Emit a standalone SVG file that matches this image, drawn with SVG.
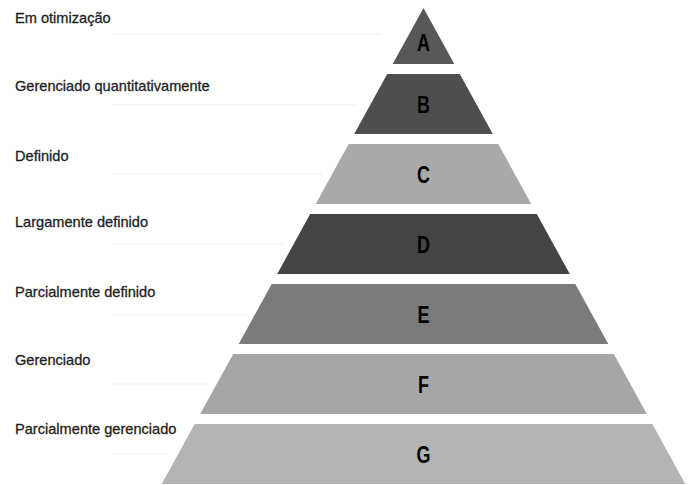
<svg xmlns="http://www.w3.org/2000/svg" width="691" height="485" viewBox="0 0 691 485">
<style>
.lbl{font-family:"Liberation Sans",Arial,sans-serif;font-size:14.6px;fill:#1e1e1e;stroke:#1e1e1e;stroke-width:0.3}
.let{font-family:"Liberation Sans",Arial,sans-serif;font-size:23px;font-weight:bold;fill:#000;text-anchor:middle}
.guide{stroke:#ebebeb;stroke-width:1;stroke-dasharray:3 1;fill:none}
</style>
<rect width="691" height="485" fill="#fff"/>
<g id="guides">
<line class="guide" x1="112" y1="34" x2="381" y2="34"/>
<line class="guide" x1="112" y1="105" x2="358" y2="105"/>
<line class="guide" x1="112" y1="174" x2="322" y2="174"/>
<line class="guide" x1="112" y1="244" x2="284" y2="244"/>
<line class="guide" x1="112" y1="315" x2="247" y2="315"/>
<line class="guide" x1="112" y1="384" x2="206" y2="384"/>
<line class="guide" x1="112" y1="454" x2="168" y2="454"/>
</g>
<g id="A">
<polygon points="423.5,8 454.3,64 392.7,64" fill="#585858"/>
<text class="let" transform="translate(423.5,51) scale(0.78,1)">A</text>
<text class="lbl" x="15" y="23">Em otimização</text>
</g>
<g id="B">
<polygon points="387.2,74 459.8,74 492.8,134 354.2,134" fill="#4e4e4e"/>
<text class="let" transform="translate(423.5,113) scale(0.78,1)">B</text>
<text class="lbl" x="15" y="91">Gerenciado quantitativamente</text>
</g>
<g id="C">
<polygon points="348.7,144 498.3,144 531.3,204 315.7,204" fill="#a9a9a9"/>
<text class="let" transform="translate(423.5,183) scale(0.78,1)">C</text>
<text class="lbl" x="15" y="161">Definido</text>
</g>
<g id="D">
<polygon points="310.2,214 536.8,214 569.8,274 277.2,274" fill="#444444"/>
<text class="let" transform="translate(423.5,253) scale(0.78,1)">D</text>
<text class="lbl" x="15" y="227">Largamente definido</text>
</g>
<g id="E">
<polygon points="271.7,284 575.3,284 608.3,344 238.7,344" fill="#7b7b7b"/>
<text class="let" transform="translate(423.5,323) scale(0.78,1)">E</text>
<text class="lbl" x="15" y="297">Parcialmente definido</text>
</g>
<g id="F">
<polygon points="233.2,354 613.8,354 646.8,414 200.2,414" fill="#a6a6a6"/>
<text class="let" transform="translate(423.5,393) scale(0.78,1)">F</text>
<text class="lbl" x="15" y="365">Gerenciado</text>
</g>
<g id="G">
<polygon points="194.7,424 652.3,424 685.3,484 161.7,484" fill="#b4b4b4"/>
<text class="let" transform="translate(423.5,463) scale(0.78,1)">G</text>
<text class="lbl" x="15" y="434">Parcialmente gerenciado</text>
</g>
</svg>
